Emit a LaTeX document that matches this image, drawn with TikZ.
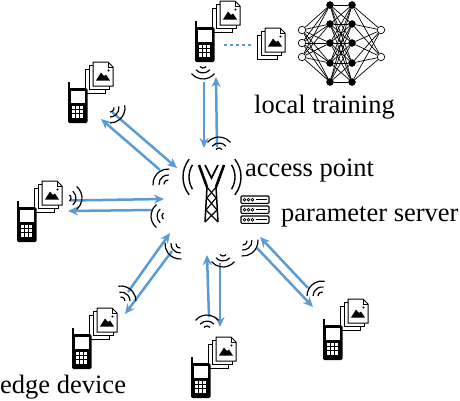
\documentclass[tikz,border=0pt]{standalone}
\usepackage{fontspec}
\setmainfont{Liberation Serif}
\usetikzlibrary{arrows.meta}
\definecolor{linkblue}{HTML}{5B9BD5}
\tikzset{
  x=1pt,y=-1pt,
  link/.style={draw=linkblue,line width=2.5pt,-{Stealth[length=10pt,width=9pt]}},
  lab/.style={font=\fontsize{26.5}{26.5}\selectfont,anchor=base west,inner sep=0pt},
  wave/.style={draw=black,line width=1.2pt},
  page/.style={draw=black,line width=1pt,fill=white},
  nnedge/.style={draw=black,line width=0.7pt},
  nnblack/.style={circle,fill=black,draw=black,minimum size=7pt,inner sep=0pt},
  nnwhite/.style={circle,fill=white,draw=black,line width=0.7pt,minimum size=7.5pt,inner sep=0pt},
  pics/docs/.style={code={
    \draw[page] (0,7) rectangle (20,31);
    \draw[page] (4,3) rectangle (24,27);
    \draw[page] (8,0) -- (23,0) -- (28,5) -- (28,24) -- (8,24) -- cycle;
    \draw[line width=0.7pt] (23,0) -- (23,5) -- (28,5);
    \fill (11,18.5) -- (16,10.5) -- (19,14) -- (21,12.5) -- (25,18.5) -- cycle;
    \fill (23.5,8.5) circle (1.1);
  }},
  pics/phone/.style={code={
    \pic at (17,-20) {docs};
    \fill[black,rounded corners=1.5pt] (0,6) rectangle (19.5,41);
    \fill[black] (0,0) rectangle (2.2,8);
    \fill[white] (2.6,9) rectangle (17,20.5);
    \foreach \i in {0,1,2}{\foreach \j in {0,1,2}{
      \fill[white] (4+\i*4.2,23.5+\j*4.4) rectangle +(3,3.2);
    }}
  }},
  pics/serverrow/.style={code={
    \draw[black,line width=1.1pt,rounded corners=1pt] (0,0) rectangle (28,7.4);
    \foreach \c in {3.5,7.5,11.5}{\draw[line width=0.7pt] (\c,3.7) circle (1.4);}
    \draw[line width=1.1pt] (15,3.7) -- (25.5,3.7);
  }}
}
% centre x, centre y, direction of the radiation
\newcommand\wifisign[3]{%
  \foreach \r in {4,9,15}{
    \draw[wave] ([shift={(#3+50:\r pt)}]#1,#2) arc[start angle=#3+50,end angle=#3-50,radius=\r pt];
  }}
\newcommand\towerwave[2]{%
  \draw[line width=1.4pt] ([shift={(#2+38:29pt)}]212,177) arc[start angle=#2+38,end angle=#2-38,radius=29pt];
  \draw[line width=1.4pt] ([shift={(#2+32:23pt)}]212,177) arc[start angle=#2+32,end angle=#2-32,radius=23pt];
}
\begin{document}
\begin{tikzpicture}
\useasboundingbox (0,0) rectangle (460,400);
% devices
\pic at (195,21) {phone};
\pic at (68,82) {phone};
\pic at (17,201) {phone};
\pic at (72,328) {phone};
\pic at (191,357) {phone};
\pic at (323,319) {phone};
% local data and training
\pic at (257,28) {docs};
\coordinate (dotA) at (224,45);
\coordinate (dotB) at (253,45);
\draw[linkblue,line width=2pt,dash pattern=on 3pt off 3pt] (dotA) -- (dotB);
% neural network
\foreach \n/\y in {1/30,2/43,3/57}{\node[nnwhite] (i\n) at (302,\y) {};}
\foreach \n/\y in {1/5,2/24,3/43,4/63,5/82}{
  \node[nnblack] (a\n) at (330,\y) {};
  \node[nnblack] (b\n) at (352,\y) {};
}
\foreach \n/\y in {1/30,2/57}{\node[nnwhite] (o\n) at (381,\y) {};}
\foreach \s in {1,2,3}{\foreach \t in {1,...,5}{\draw[nnedge] (i\s) -- (a\t);}}
\foreach \s in {1,...,5}{\foreach \t in {1,...,5}{\draw[nnedge] (a\s) -- (b\t);}}
\foreach \s in {1,...,5}{\foreach \t in {1,2}{\draw[nnedge] (b\s) -- (o\t);}}
% links
\coordinate (n1a) at (204,82);  \coordinate (n1b) at (204,148);
\coordinate (n1c) at (217,147); \coordinate (n1d) at (216,77);
\coordinate (n2a) at (112,112); \coordinate (n2b) at (177,168);
\coordinate (n2c) at (160,170); \coordinate (n2d) at (101,119);
\coordinate (n3a) at (70,200.5);\coordinate (n3b) at (164,199);
\coordinate (n3c) at (152,210); \coordinate (n3d) at (68,211);
\coordinate (n4a) at (128,292); \coordinate (n4b) at (170,233);
\coordinate (n4c) at (172,251); \coordinate (n4d) at (125,314);
\coordinate (n5a) at (209,317); \coordinate (n5b) at (207,255);
\coordinate (n5c) at (220,263); \coordinate (n5d) at (220,327);
\coordinate (n6a) at (308,288); \coordinate (n6b) at (260,237);
\coordinate (n6c) at (257,248); \coordinate (n6d) at (313,307);
\foreach \k in {1,...,6}{
  \draw[link] (n\k a) -- (n\k b);
  \draw[link] (n\k c) -- (n\k d);
}
% wireless signs
\wifisign{203}{64}{-90}
\wifisign{219}{152}{90}
\wifisign{110}{108}{-40}
\wifisign{168}{184}{135}
\wifisign{67}{198}{0}
\wifisign{166}{216}{180}
\wifisign{121}{301}{50}
\wifisign{180}{244}{225}
\wifisign{207}{330}{90}
\wifisign{223}{252}{-90}
\wifisign{322}{296}{130}
\wifisign{243}{241}{-45}
% access point
\towerwave{212}{180}
\towerwave{212}{0}
\draw[line width=2.6pt] (199,165) -- (207,187);
\draw[line width=2.6pt] (224,165) -- (216,187);
\draw[line width=1.5pt] (207,187) -- (205,222);
\draw[line width=1.5pt] (216,187) -- (218,222);
\draw[line width=1.6pt] (205,165) -- (211.5,178) -- (218,165);
\draw[line width=1.2pt] (207,187) -- (216,198) -- (206,210) -- (218,222);
\draw[line width=1.2pt] (216,187) -- (207,198) -- (217,210) -- (205,222);
% server
\pic at (241,196) {serverrow};
\pic at (241,206) {serverrow};
\pic at (241,216) {serverrow};
% labels
\node[lab] (lbltrain) at (254,113) {local training};
\node[lab] (lblap) at (245,176) {access point};
\node[lab] (lblps) at (281,221) {parameter server};
\node[lab] (lbledge) at (0,393) {edge device};
\end{tikzpicture}
\end{document}
